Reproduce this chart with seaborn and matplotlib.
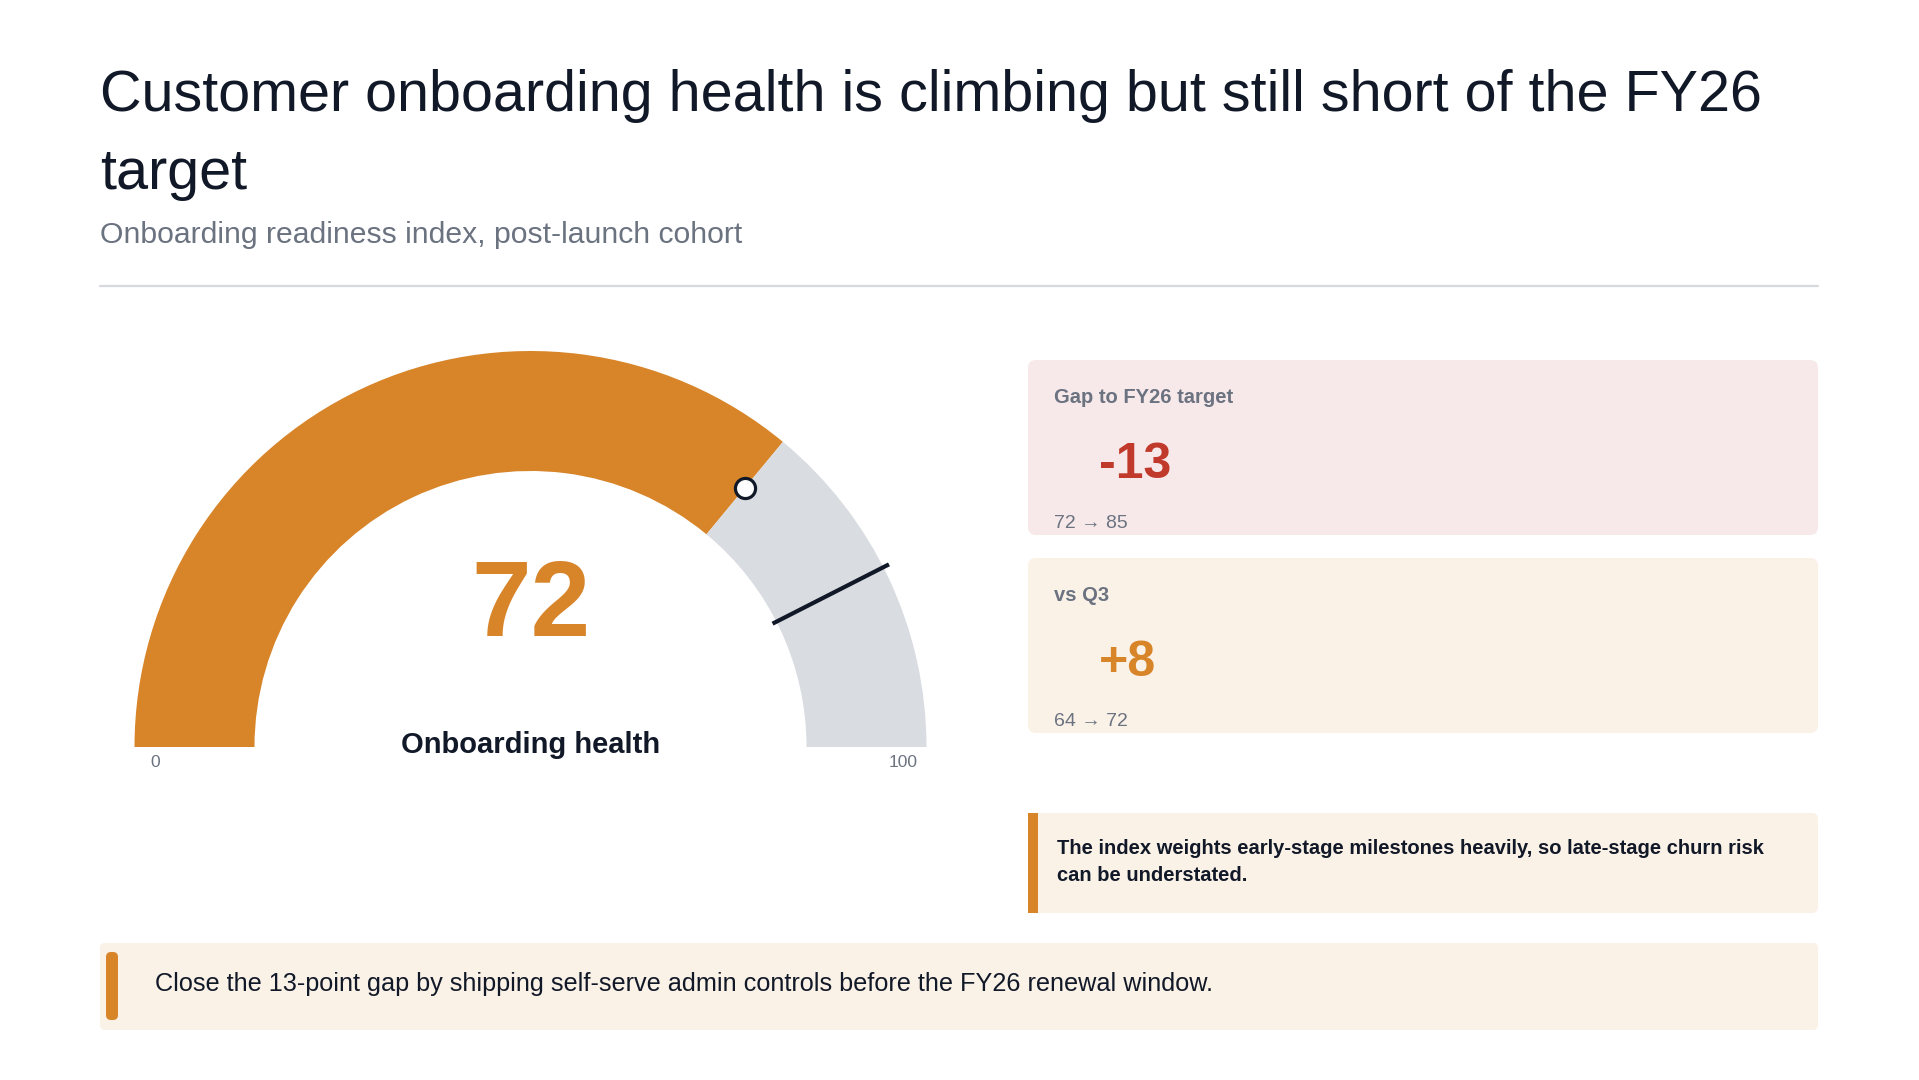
import numpy as np
import matplotlib
matplotlib.use("Agg")
import matplotlib.pyplot as plt
from matplotlib.patches import FancyBboxPatch
import seaborn as sns

sns.set_theme(style="white")
plt.rcParams["font.family"] = ["Liberation Sans", "DejaVu Sans"]

# ---- data ----
TITLE_LINES = ["Customer onboarding health is climbing but still short of the FY26", "target"]
SUBTITLE = "Onboarding readiness index, post-launch cohort"
METRIC = "Onboarding health"
SCALE = [0, 100]
SCALE_LABELS = ["0", "100"]
current = 72
target = 85
prior = 64  # Q3
CARD_LABELS = ["Gap to FY26 target", "vs Q3"]
NOTE_LINES = ["The index weights early-stage milestones heavily, so late-stage churn risk",
              "can be understated."]
ACTION = "Close the 13-point gap by shipping self-serve admin controls before the FY26 renewal window."

ORANGE, TRACK, INK, MUTED, RED = "#d8852a", "#d9dce1", "#111827", "#6b7280", "#c0392b"
PINK_BG, CREAM = "#f7e9e9", "#faf1e7"

W, H = 1919, 1080
fig = plt.figure(figsize=(W / 100, H / 100), dpi=100)
cv = fig.add_axes([0, 0, 1, 1]); cv.set_xlim(0, W); cv.set_ylim(H, 0); cv.axis("off")

def box(x0, y0, x1, y1, fc, r=8):
    cv.add_patch(FancyBboxPatch((x0, y0), x1 - x0, y1 - y0,
                                boxstyle=f"round,pad=0,rounding_size={r}", fc=fc, ec="none"))

# ---- header ----
cv.text(100, 111, TITLE_LINES[0], fontsize=41.4, color=INK, va="baseline")
cv.text(100, 189, TITLE_LINES[1], fontsize=41.4, color=INK, va="baseline")
cv.text(100, 243, SUBTITLE, fontsize=21.7, color=MUTED, va="baseline")
cv.plot([100, 1818], [286, 286], color="#d6d9de", lw=1.6)

# ---- gauge (polar axes, value -> angle) ----
cx, cy, R, RMAX = 530.5, 747, 396, 1.1
half = R * RMAX
gx = fig.add_axes([(cx - half) / W, (H - cy - half) / H, 2 * half / W, 2 * half / H], projection="polar")
gx.set_theta_zero_location("W"); gx.set_theta_direction(-1)
gx.set_ylim(0, RMAX); gx.axis("off"); gx.patch.set_alpha(0)
to_theta = lambda v: np.pi * (v - SCALE[0]) / (SCALE[1] - SCALE[0])
inner = 0.697
for a, b, c in [(SCALE[0], current, ORANGE), (current, SCALE[1], TRACK)]:
    gx.bar((to_theta(a) + to_theta(b)) / 2, 1 - inner, width=to_theta(b) - to_theta(a),
           bottom=inner, color=c, lw=0, align="center")
gx.plot([to_theta(target)] * 2, [0.686, 1.016], color=INK, lw=3, solid_capstyle="butt")
sns.scatterplot(x=[to_theta(current)], y=[(inner + 1) / 2], ax=gx, s=210, color="white",
                edgecolor=INK, linewidth=2.3, zorder=5)

cv.text(cx, 636, f"{current}", fontsize=77, fontweight="bold", color=ORANGE, ha="center", va="baseline")
cv.text(cx, 753, METRIC, fontsize=21, fontweight="bold", color=INK, ha="center", va="baseline")
for xpos, lab in zip([155, 903], SCALE_LABELS):
    cv.text(xpos, 767, lab, fontsize=12.5, color=MUTED, ha="center", va="baseline")

# ---- KPI cards ----
cards = [(CARD_LABELS[0], current - target, f"{current} \u2192 {target}", RED, PINK_BG),
         (CARD_LABELS[1], current - prior, f"{prior} \u2192 {current}", ORANGE, CREAM)]
for i, (lab, val, sub, col, bg) in enumerate(cards):
    y0 = 360 + i * 198
    box(1028, y0, 1818, y0 + 175, bg)
    cv.text(1054, y0 + 43, lab, fontsize=14.5, fontweight="bold", color=MUTED, va="baseline")
    cv.text(1099, y0 + 118, f"{val:+d}", fontsize=36, fontweight="bold", color=col, va="baseline")
    cv.text(1054, y0 + 168, sub, fontsize=14, color=MUTED, va="baseline")

# ---- caveat note ----
box(1028, 813, 1818, 913, CREAM, r=6)
cv.add_patch(plt.Rectangle((1028, 813), 10, 100, fc=ORANGE, ec="none"))
for k, line in enumerate(NOTE_LINES):
    cv.text(1057, 854 + 27 * k, line, fontsize=14.5, fontweight="bold", color=INK, va="baseline")

# ---- action banner ----
box(100, 943, 1818, 1030, CREAM, r=5)
box(106, 952, 118, 1020, ORANGE, r=5)
cv.text(155, 991, ACTION, fontsize=18.2, color=INK, va="baseline")

fig.savefig("out.png", dpi=100)
